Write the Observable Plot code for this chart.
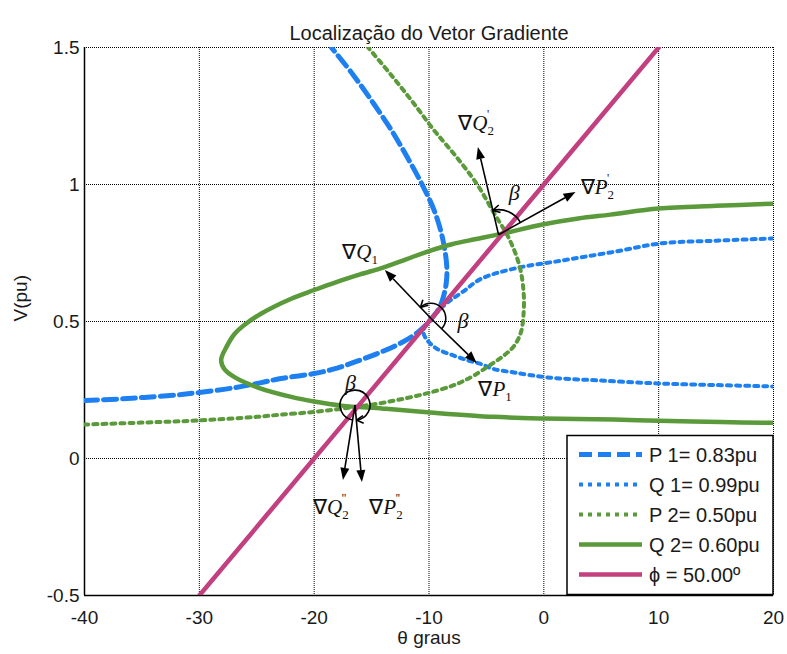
<!DOCTYPE html>
<html><head><meta charset="utf-8">
<script src="https://cdn.jsdelivr.net/npm/d3@7"></script>
<script src="https://cdn.jsdelivr.net/npm/@observablehq/plot@0.6"></script>
<style>body{margin:0;background:#fff}</style>
</head><body><div id="chart"></div>
<script>
// ---- data (theta in degrees, V in pu) ----
const xTicks = [-40, -30, -20, -10, 0, 10, 20];
const xTickLabels = ["-40", "-30", "-20", "-10", "0", "10", "20"];
const yTicks = [-0.5, 0, 0.5, 1, 1.5];
const yTickLabels = ["-0.5", "0", "0.5", "1", "1.5"];

const P1 = [[-40,0.212],[-37,0.217],[-34.8,0.223],[-32,0.232],[-30,0.241],[-27,0.258],[-24.6,0.277],[-22.9,0.292],[-20,0.31],[-18,0.33],[-16.2,0.356],[-14.5,0.383],[-13,0.41],[-12,0.432],[-11,0.46],[-10.2,0.49],[-9.6,0.52],[-9.1,0.55],[-8.75,0.59],[-8.5,0.64],[-8.45,0.7],[-8.8,0.8],[-9.5,0.9],[-10.6,1.0],[-11.9,1.1],[-13.3,1.2],[-14.9,1.3],[-16.6,1.4],[-18.5,1.5]];
const Q1 = [[20,0.803],[15,0.795],[10.2,0.785],[5.8,0.752],[1.5,0.722],[-2.6,0.693],[-5.5,0.655],[-7,0.61],[-8.4,0.569],[-9.5,0.525],[-10.2,0.49],[-10.5,0.465],[-10.3,0.44],[-9.9,0.42],[-9.3,0.4],[-8,0.378],[-6.6,0.358],[-5.5,0.345],[-4.4,0.327],[-2.6,0.314],[0.3,0.296],[4.7,0.285],[9.9,0.274],[15,0.268],[20,0.263]];
const P2 = [[-40,0.124],[-35,0.131],[-30,0.139],[-25,0.152],[-22.9,0.16],[-20,0.17],[-17,0.185],[-14.5,0.2],[-12,0.22],[-9.9,0.241],[-8,0.265],[-7,0.283],[-6,0.305],[-4.6,0.343],[-3.5,0.375],[-2.6,0.41],[-2.0,0.46],[-1.78,0.52],[-1.75,0.6],[-2.1,0.7],[-3.0,0.8],[-4.4,0.9],[-5.8,1.0],[-7.6,1.1],[-9.6,1.2],[-11.4,1.3],[-13.3,1.4],[-15.3,1.5]];
const Q2 = [[20,0.93],[15,0.922],[10,0.912],[5.8,0.89],[3,0.876],[0,0.855],[-3.9,0.818],[-6,0.8],[-8,0.782],[-10,0.757],[-12,0.727],[-14,0.697],[-16,0.672],[-18,0.645],[-20,0.615],[-22,0.583],[-24.6,0.529],[-26,0.49],[-26.9,0.456],[-27.6,0.41],[-28.1,0.36],[-27.8,0.325],[-26.9,0.296],[-24.9,0.259],[-22,0.225],[-20,0.208],[-17.6,0.193],[-14,0.182],[-9.9,0.168],[-4.4,0.152],[0,0.146],[6.1,0.142],[10,0.138],[15.4,0.133],[20,0.13]];
const PHI = [[-30,-0.5],[-20,0],[-10,0.5],[0,1],[10,1.5]];

const legendLabels = ["P 1= 0.83pu", "Q 1= 0.99pu", "P 2= 0.50pu", "Q 2= 0.60pu", "\u03D5 = 50.00\u00BA"];

// gradient arrows (data coords)
const gradArrows = [
  {x1: -9.8, y1: 0.51, x2: -13.8, y2: 0.686},   // ∇Q1
  {x1: -9.8, y1: 0.51, x2: -5.8, y2: 0.347},    // ∇P1
  {x1: -3.9, y1: 0.815, x2: -5.7, y2: 1.135},   // ∇Q2'
  {x1: -3.9, y1: 0.815, x2: 2.8, y2: 0.971},    // ∇P2'
  {x1: -16.4, y1: 0.193, x2: -17.45, y2: -0.08},// ∇Q2''
  {x1: -16.4, y1: 0.193, x2: -15.8, y2: -0.088} // ∇P2''
];
const gradLabels = [
  {x: -15.96, y: 0.752, g: "Q", sub: "1", sup: ""},
  {x: -4.2, y: 0.252, g: "P", sub: "1", sup: ""},
  {x: -5.85, y: 1.223, g: "Q", sub: "2", sup: "'"},
  {x: 4.7, y: 0.99, g: "P", sub: "2", sup: "'"},
  {x: -18.5, y: -0.18, g: "Q", sub: "2", sup: "''"},
  {x: -13.7, y: -0.18, g: "P", sub: "2", sup: "''"}
];
const betaLabels = [{x: -7.0, y: 0.5}, {x: -2.54, y: 0.967}, {x: -16.8, y: 0.274}];
const angleArcs = [
  {from: 1, to: 0, r: 15, sweep: 0},
  {from: 3, to: 2, r: 25, sweep: 0},
  {from: 4, to: 5, r: 15, sweep: 1}
];

// ---- styles ----
const FONT = "'Liberation Sans', Arial, Helvetica, sans-serif";
const SERIF = "'Liberation Serif', 'Times New Roman', serif";
const styles = [
  {data: P1, stroke: "#1E80F0", strokeWidth: 5, dash: "13,6"},
  {data: Q1, stroke: "#1E80F0", strokeWidth: 4, dash: "4,5"},
  {data: P2, stroke: "#5A9A3A", strokeWidth: 4, dash: "4,5"},
  {data: Q2, stroke: "#5A9A3A", strokeWidth: 4.5, dash: null},
  {data: PHI, stroke: "#C2407F", strokeWidth: 4.5, dash: null}
];

function annotations(index, scales, values, dimensions) {
  const sx = scales.x, sy = scales.y;
  const g = d3.create("svg:g");
  const P = gradArrows.map(a => ({x1: sx(a.x1), y1: sy(a.y1), x2: sx(a.x2), y2: sy(a.y2)}));
  for (const a of P) {
    const dx = a.x2 - a.x1, dy = a.y2 - a.y1, L = Math.hypot(dx, dy);
    const ux = dx / L, uy = dy / L, hl = 12, hw = 4.5;
    const bx = a.x2 - ux * hl, by = a.y2 - uy * hl;
    g.append("line").attr("x1", a.x1).attr("y1", a.y1).attr("x2", bx).attr("y2", by)
      .attr("stroke", "black").attr("stroke-width", 1.6);
    g.append("path").attr("d", `M${a.x2},${a.y2}L${bx - uy * hw},${by + ux * hw}L${bx + uy * hw},${by - ux * hw}Z`)
      .attr("fill", "black");
  }
  for (const arc of angleArcs) {
    const f = P[arc.from], t = P[arc.to];
    const cx = f.x1, cy = f.y1, r = arc.r;
    const a1 = Math.atan2(f.y2 - cy, f.x2 - cx), a2 = Math.atan2(t.y2 - cy, t.x2 - cx);
    const TWO = Math.PI * 2;
    let d = arc.sweep ? (a2 - a1) : (a1 - a2);
    d = ((d % TWO) + TWO) % TWO;
    const sx1 = cx + r * Math.cos(a1), sy1 = cy + r * Math.sin(a1);
    const ex = cx + r * Math.cos(a2), ey = cy + r * Math.sin(a2);
    g.append("path").attr("d", `M${sx1},${sy1}A${r},${r} 0 ${d > Math.PI ? 1 : 0} ${arc.sweep} ${ex},${ey}`)
      .attr("fill", "none").attr("stroke", "black").attr("stroke-width", 1.6);
    let tx = arc.sweep ? -Math.sin(a2) : Math.sin(a2), ty = arc.sweep ? Math.cos(a2) : -Math.cos(a2);
    const hl = 8, ang = 0.5;
    for (const s of [-1, 1]) {
      const c = Math.cos(s * ang), sn = Math.sin(s * ang);
      const rx = -(tx * c - ty * sn), ry = -(tx * sn + ty * c);
      g.append("line").attr("x1", ex).attr("y1", ey).attr("x2", ex + rx * hl).attr("y2", ey + ry * hl)
        .attr("stroke", "black").attr("stroke-width", 1.6);
    }
  }
  for (const l of gradLabels) {
    const t = g.append("text").attr("x", sx(l.x)).attr("y", sy(l.y) + 7)
      .attr("font-family", SERIF).attr("font-size", 21).attr("text-anchor", "middle").attr("fill", "#111");
    t.append("tspan").text("\u2207");
    t.append("tspan").attr("font-style", "italic").text(l.g);
    t.append("tspan").attr("font-size", 13).attr("dy", 5).text(l.sub);
    if (l.sup) t.append("tspan").attr("font-size", 12).attr("dx", -7).attr("dy", -17).text(l.sup);
  }
  for (const b of betaLabels) {
    g.append("text").attr("x", sx(b.x)).attr("y", sy(b.y) + 7).attr("font-family", SERIF)
      .attr("font-style", "italic").attr("font-size", 22).attr("text-anchor", "middle").attr("fill", "#111").text("\u03B2");
  }
  // legend
  const right = dimensions.width - dimensions.marginRight, bottom = dimensions.height - dimensions.marginBottom;
  const lw = 206, lh = 160, lx = right - lw, ly = bottom - lh + 0.5;
  const lg = g.append("g");
  lg.append("rect").attr("x", lx).attr("y", ly).attr("width", lw).attr("height", lh - 1)
    .attr("fill", "white").attr("stroke", "black").attr("stroke-width", 1.5);
  styles.forEach((s, i) => {
    const yy = ly + 19 + i * 30;
    lg.append("line").attr("x1", lx + 12).attr("x2", lx + 75).attr("y1", yy).attr("y2", yy)
      .attr("stroke", s.stroke).attr("stroke-width", s.strokeWidth).attr("stroke-dasharray", s.dash || null);
    lg.append("text").attr("x", lx + 82).attr("y", yy + 7).attr("font-family", FONT).attr("font-size", 20)
      .attr("text-anchor", "start").attr("fill", "#1a1a1a").text(legendLabels[i]);
  });
  return g.node();
}

const chart = Plot.plot({
  width: 787, height: 654,
  marginLeft: 84, marginRight: 14, marginTop: 47, marginBottom: 59,
  x: {domain: [-40, 20], axis: null},
  y: {domain: [-0.5, 1.5], axis: null},
  style: {background: "white", fontFamily: FONT, color: "#1a1a1a", overflow: "visible"},
  marks: [
    Plot.gridX(xTicks, {stroke: "black", strokeOpacity: 1, strokeWidth: 1, strokeDasharray: "1,1"}),
    Plot.gridY(yTicks, {stroke: "black", strokeOpacity: 1, strokeWidth: 1, strokeDasharray: "1,1"}),
    Plot.ruleX([-40], {stroke: "black", strokeWidth: 1.5}),
    Plot.ruleY([-0.5], {stroke: "black", strokeWidth: 1.5}),
    Plot.axisX(xTicks, {anchor: "bottom", tickSize: 0, tickPadding: 15, fontSize: 19, label: null,
      tickFormat: d => xTickLabels[xTicks.indexOf(d)]}),
    Plot.axisY(yTicks, {anchor: "left", tickSize: 0, tickPadding: 5, fontSize: 19, label: null,
      tickFormat: d => yTickLabels[yTicks.indexOf(d)]}),
    ...styles.map(s => Plot.line(s.data, {x: d => d[0], y: d => d[1], stroke: s.stroke, strokeWidth: s.strokeWidth,
      strokeDasharray: s.dash || undefined, curve: "catmull-rom", clip: true})),
    Plot.text(["Localização do Vetor Gradiente"], {frameAnchor: "top", dy: -22, fontSize: 20, text: d => d}),
    Plot.text(["\u03B8 graus"], {frameAnchor: "bottom", dy: 48, fontSize: 19, text: d => d}),
    Plot.text(["V(pu)"], {frameAnchor: "left", dx: -64, rotate: -90, fontSize: 19, text: d => d}),
    annotations
  ]
});
document.getElementById("chart").appendChild(chart);
</script></body></html>
